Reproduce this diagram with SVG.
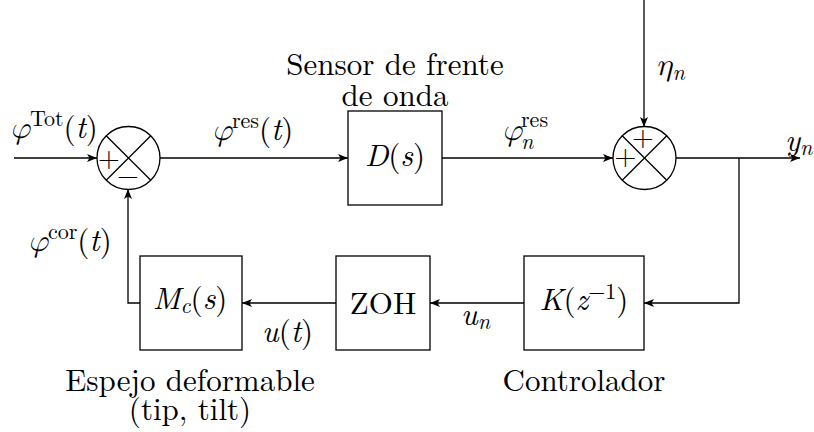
<svg xmlns="http://www.w3.org/2000/svg" width="814" height="432" viewBox="0 0 814 432" font-family="Latin Modern Roman, Liberation Serif, serif">
<style>
text{font-size:31px;fill:#000}
.i{font-style:italic}
.sup{font-size:22px}
.g{font-family:Latin Modern Math, Liberation Serif, serif;font-style:italic}
.sgn{font-size:28px;fill:#000;text-anchor:middle}
.ln{stroke:#000;stroke-width:1.3;fill:none}
.box{stroke:#000;stroke-width:1.3;fill:#fff}
.c{text-anchor:middle}
</style>
<defs>
<marker id="a" viewBox="0 0 10 8" refX="10" refY="4" markerWidth="10" markerHeight="8" markerUnits="userSpaceOnUse" orient="auto">
<path d="M0,0 L10,4 L0,8 L2.5,4 Z" fill="#000"/>
</marker>
</defs>
<g id="connectors">
<line class="ln" x1="14" y1="158" x2="97" y2="158" marker-end="url(#a)"/>
<line class="ln" x1="160" y1="158" x2="348" y2="158" marker-end="url(#a)"/>
<line class="ln" x1="442" y1="158" x2="613" y2="158" marker-end="url(#a)"/>
<line class="ln" x1="644" y1="0" x2="644" y2="127" marker-end="url(#a)"/>
<line class="ln" x1="676" y1="158" x2="800" y2="158" marker-end="url(#a)"/>
<polyline class="ln" points="739,158 739,303 644,303" marker-end="url(#a)"/>
<line class="ln" x1="524" y1="303" x2="430" y2="303" marker-end="url(#a)"/>
<line class="ln" x1="336" y1="303" x2="242" y2="303" marker-end="url(#a)"/>
<polyline class="ln" points="140,303 128,303 128,189" marker-end="url(#a)"/>
</g>
<g id="sum1">
<circle class="ln" cx="128.5" cy="158" r="31.5"/>
<line class="ln" x1="106.2" y1="135.7" x2="150.8" y2="180.3"/>
<line class="ln" x1="150.8" y1="135.7" x2="106.2" y2="180.3"/>
<text class="sgn" x="109" y="167">+</text>
<text class="sgn" x="128" y="184">−</text>
</g>
<g id="sum2">
<circle class="ln" cx="644.5" cy="158" r="31.5"/>
<line class="ln" x1="622.2" y1="135.7" x2="666.8" y2="180.3"/>
<line class="ln" x1="666.8" y1="135.7" x2="622.2" y2="180.3"/>
<text class="sgn" x="643" y="146">+</text>
<text class="sgn" x="625.5" y="165">+</text>
</g>
<g id="sensor">
<rect class="box" x="348" y="111" width="94" height="94"/>
<text class="c" x="395" y="166"><tspan class="i">D</tspan>(<tspan class="i">s</tspan>)</text>
<text class="c" x="395" y="75">Sensor de frente</text>
<text class="c" x="395" y="106">de onda</text>
</g>
<g id="mirror">
<rect class="box" x="140" y="256" width="102" height="94"/>
<text class="c" x="190" y="309"><tspan class="i">M</tspan><tspan class="i sup" dy="4">c</tspan><tspan dy="-4">(</tspan><tspan class="i">s</tspan>)</text>
<text class="c" x="190" y="391">Espejo deformable</text>
<text class="c" x="190" y="420">(tip, tilt)</text>
</g>
<g id="zoh">
<rect class="box" x="336" y="256" width="94" height="94"/>
<text class="c" x="383" y="314">ZOH</text>
</g>
<g id="controller">
<rect class="box" x="524" y="256" width="120" height="94"/>
<text class="c" x="584" y="310"><tspan class="i">K</tspan>(<tspan class="i">z</tspan><tspan class="sup" dy="-11">−1</tspan><tspan dy="11">)</tspan></text>
<text class="c" x="584" y="391">Controlador</text>
</g>
<g id="labels">
<text x="10" y="138"><tspan class="g">φ</tspan><tspan class="sup" dy="-12">Tot</tspan><tspan dy="12">(</tspan><tspan class="i">t</tspan>)</text>
<text x="212" y="140"><tspan class="g">φ</tspan><tspan class="sup" dy="-12">res</tspan><tspan dy="12">(</tspan><tspan class="i">t</tspan>)</text>
<text x="502" y="140" class="g">φ</text>
<text x="521" y="127" class="sup">res</text>
<text x="521" y="149" class="sup i">n</text>
<text x="656" y="75"><tspan class="g">η</tspan><tspan class="sup i" dy="5">n</tspan></text>
<text x="785" y="151"><tspan class="i">y</tspan><tspan class="sup i" dy="4">n</tspan></text>
<text x="28" y="251"><tspan class="g">φ</tspan><tspan class="sup" dy="-12">cor</tspan><tspan dy="12">(</tspan><tspan class="i">t</tspan>)</text>
<text x="262" y="342"><tspan class="i">u</tspan>(<tspan class="i">t</tspan>)</text>
<text x="461" y="325"><tspan class="i">u</tspan><tspan class="sup i" dy="4">n</tspan></text>
</g>
</svg>
